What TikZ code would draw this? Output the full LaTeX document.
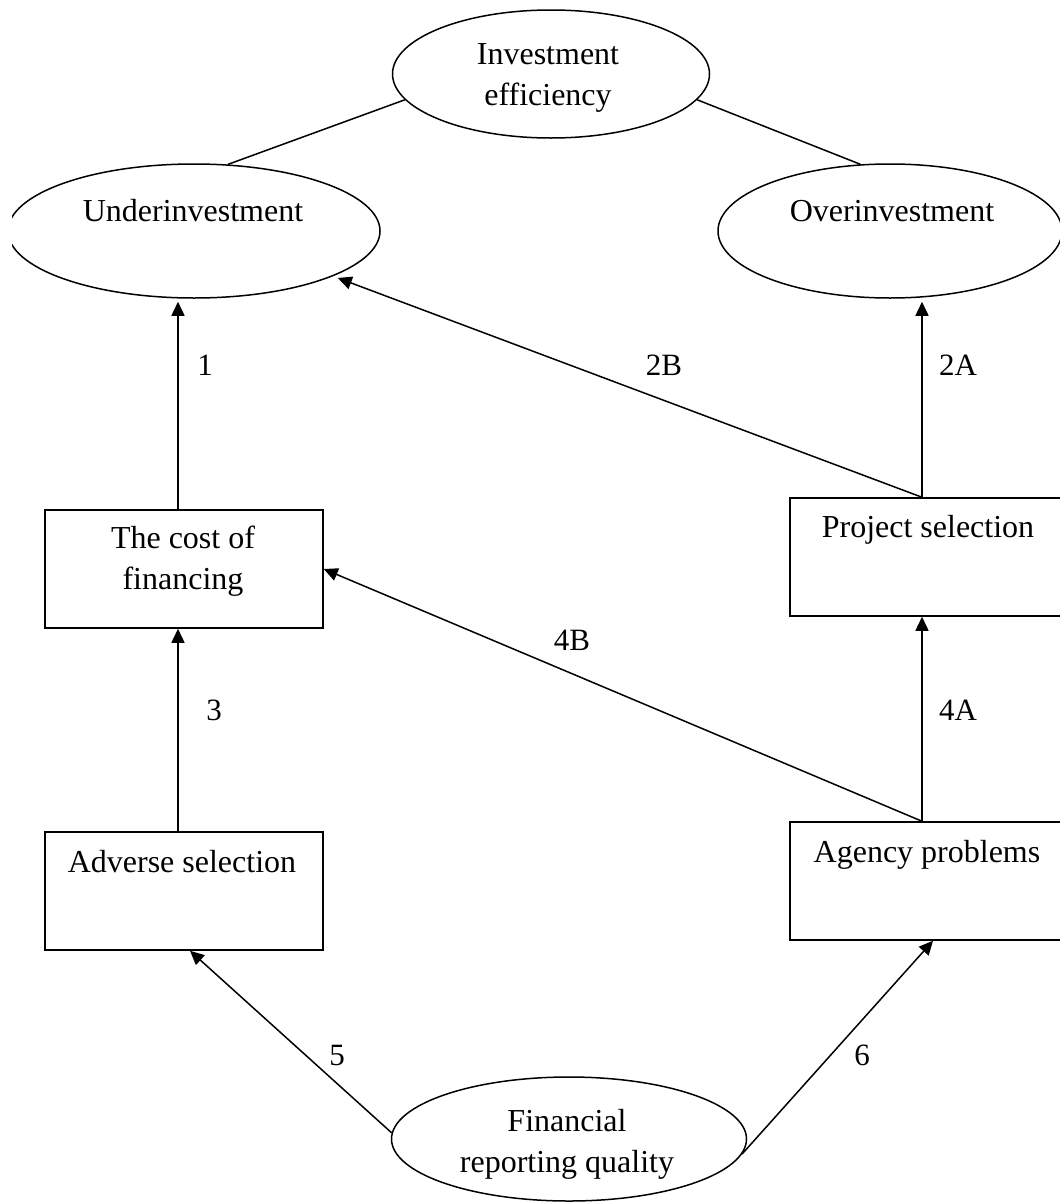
\documentclass[tikz,border=0pt]{standalone}
\usepackage{fontspec}
\setmainfont{Liberation Serif}
\usetikzlibrary{shapes.geometric,arrows.meta}
\begin{document}
\begin{tikzpicture}[x=1pt,y=-1pt,
  ell/.style={ellipse,draw,line width=1.5pt,inner sep=0pt},
  box/.style={rectangle,draw,line width=1.5pt,inner sep=0pt},
  txt/.style={font=\fontsize{32}{41}\selectfont,align=center,inner sep=0pt},
  lab/.style={font=\fontsize{31}{36}\selectfont,inner sep=0pt},
  con/.style={line width=1.5pt},
  arr/.style={line width=1.5pt,-{Triangle[length=14pt,width=13pt]}}]
\useasboundingbox (0,0) rectangle (1060,1202);
\clip (0,0) rectangle (1060,1202);
% shapes
\node[ell,minimum width=317pt,minimum height=128pt] (ie) at (551,74) {};
\begin{scope}
  \clip (12,0) rectangle (1060,1202);
  \node[ell,minimum width=372pt,minimum height=134pt] (under) at (194,231) {};
\end{scope}
\node[ell,minimum width=344pt,minimum height=134pt] (over) at (890,231) {};
\node[box,minimum width=278pt,minimum height=118pt] (cost) at (184,569) {};
\node[box,minimum width=280pt,minimum height=118pt] (proj) at (930,557) {};
\node[box,minimum width=278pt,minimum height=118pt] (adv) at (184,891) {};
\node[box,minimum width=280pt,minimum height=118pt] (agency) at (930,881) {};
\node[ell,minimum width=355pt,minimum height=124pt] (frq) at (569,1139) {};
% texts
\node[txt] (tie) at (548,77.5) {Investment\\efficiency};
\node[txt,anchor=base] (tunder) at (193,221) {Underinvestment};
\node[txt,anchor=base] (tover) at (892,221) {Overinvestment};
\node[txt] (tcost) at (183,561) {The cost of\\financing};
\node[txt,anchor=base] (tproj) at (928,537) {Project selection};
\node[txt,anchor=base] (tadv) at (182,872) {Adverse selection};
\node[txt,anchor=base] (tagency) at (927,862) {Agency problems};
\node[txt] (tfrq) at (567,1144.5) {Financial\\reporting quality};
% connectors
\draw[con] (ie.190) -- (under.63);
\draw[con] (ie.350) -- (over.114);
\draw[arr,shorten >=3pt] ([xshift=-6pt]cost.north) -- ([xshift=-6pt]cost.north |- under.south);
\draw[arr,shorten >=3pt] ([xshift=-8pt]proj.north) -- ([xshift=-8pt]proj.north |- over.south);
\draw[arr,shorten >=5pt] ([xshift=-8pt]proj.north) -- (under.342);
\draw[arr] ([xshift=-6pt]adv.north) -- ([xshift=-6pt]cost.south);
\draw[arr] ([xshift=-8pt]agency.north) -- ([xshift=-8pt]proj.south);
\draw[arr] ([xshift=-8pt]agency.north) -- (cost.east);
\draw[arr] (frq.178) -- ([xshift=6pt]adv.south);
\draw[arr] (frq.355) -- ([xshift=3pt]agency.south);
% labels
\node[lab] (l1) at (205,365) {1};
\node[lab] (l2b) at (664,365) {2B};
\node[lab] (l2a) at (958,365) {2A};
\node[lab] (l3) at (214,710) {3};
\node[lab] (l4b) at (572,640) {4B};
\node[lab] (l4a) at (958,710) {4A};
\node[lab] (l5) at (337,1055) {5};
\node[lab] (l6) at (862,1055) {6};
\end{tikzpicture}
\end{document}
